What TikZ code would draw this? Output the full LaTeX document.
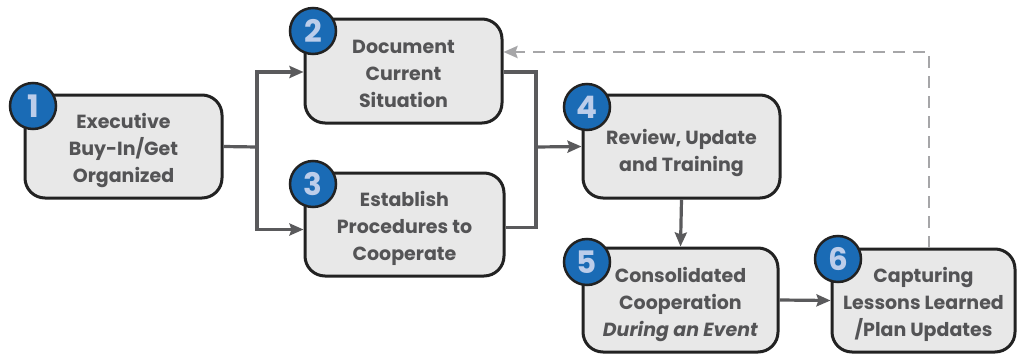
\documentclass[tikz,border=0pt]{standalone}
\usepackage{fontspec}
\setmainfont{Poppins}
\usetikzlibrary{arrows.meta,calc}
\definecolor{boxfill}{HTML}{E8E8E8}
\definecolor{boxline}{HTML}{222222}
\definecolor{txt}{HTML}{545456}
\definecolor{conncol}{HTML}{5A5A5C}
\definecolor{dashcol}{HTML}{A6A6A8}
\definecolor{numblue}{HTML}{1A6BB5}
\definecolor{numtxt}{HTML}{BCCDEA}
\newcommand\boxtext[2][-4pt]{\raisebox{#1}[\height][\depth]{\begin{tabular}{@{}c@{}}#2\end{tabular}}}
\begin{document}
\begin{tikzpicture}[x=1pt,y=-1pt,
  stepbox/.style={draw=boxline, fill=boxfill, line width=3pt, rounded corners=20pt,
    inner sep=0pt, align=center, text=txt,
    font=\fontsize{19}{27}\selectfont\bfseries},
  numcirc/.style={circle, draw=boxline, fill=numblue, line width=2.5pt,
    minimum size=46pt, inner sep=0pt, text=numtxt,
    font=\fontsize{31}{31}\selectfont\bfseries},
  conn/.style={draw=conncol, line width=3.2pt},
  tip/.style={-{Stealth[length=14pt,width=12pt,inset=2pt]}},
  dashconn/.style={draw=dashcol, line width=2.8pt, dash pattern=on 12pt off 8pt,
    -{Stealth[length=14pt,width=12pt,inset=2pt]}}
]
\useasboundingbox (0,0) rectangle (1018,356);

\node[stepbox, minimum width=197pt, minimum height=103pt] (b1) at (123.5,146.5)
  {\boxtext{Executive\\Buy-In/Get\\Organized}};
\node[stepbox, minimum width=197pt, minimum height=104pt] (b2) at (403.5,71)
  {\boxtext{Document\\Current\\Situation}};
\node[stepbox, minimum width=199pt, minimum height=103pt] (b3) at (404.5,224.5)
  {\boxtext{Establish\\Procedures to\\Cooperate}};
\node[stepbox, minimum width=197pt, minimum height=103pt] (b4) at (681.5,146.5)
  {\boxtext[-6pt]{Review, Update\\and Training}};
\node[stepbox, minimum width=195pt, minimum height=104pt] (b5) at (680.5,300)
  {\boxtext{Consolidated\\Cooperation\\\textit{During an Event}}};
\node[stepbox, minimum width=183pt, minimum height=103pt] (b6) at (923.5,300.5)
  {\boxtext{Capturing\\Lessons Learned\\/Plan Updates}};

\coordinate (s1) at (257,147);
\coordinate (s2) at (536,147);
\coordinate (d1) at (929,52);

\draw[conn] (b1.east) -- (s1);
\draw[conn,tip] (s1) |- ($(b2.west)+(0,1)$);
\draw[conn,tip] (s1) |- ($(b3.west)+(0,5)$);
\draw[conn] ($(b2.east)+(0,1)$) -| (s2);
\draw[conn] ($(b3.east)+(0,3)$) -| (s2);
\draw[conn,tip] (s2) -- (b4.west);
\draw[conn,tip] (b4.south) -- (b5.north);
\draw[conn,tip] (b5.east) -- (b6.west);
\draw[dashconn] (b6.north -| d1) -- (d1) -- (b2.east |- d1);

\node[numcirc] (n1) at (33,106) {1};
\node[numcirc] (n2) at (313,31) {2};
\node[numcirc] (n3) at (313,184) {3};
\node[numcirc] (n4) at (587,107) {4};
\node[numcirc] (n5) at (587,262) {5};
\node[numcirc] (n6) at (838,259) {6};
\end{tikzpicture}
\end{document}
